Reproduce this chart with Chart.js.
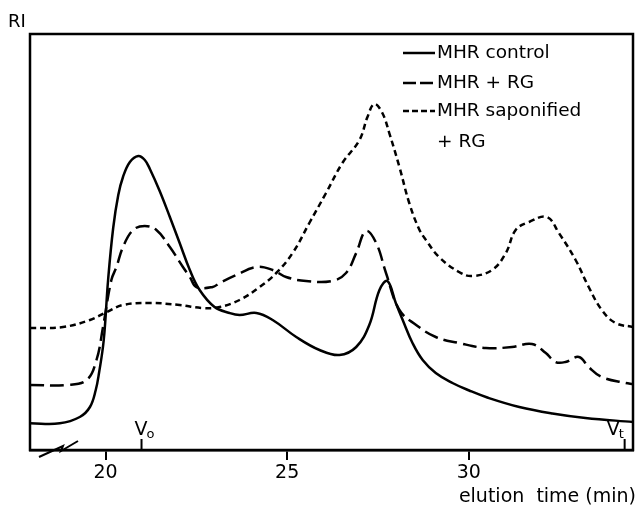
<!DOCTYPE html>
<html>
<head>
<meta charset="utf-8">
<script src="https://cdn.jsdelivr.net/npm/chart.js@4.4.0/dist/chart.umd.min.js"></script>
<style>
  html, body { margin: 0; padding: 0; background: #fff; }
  #wrap { width: 638px; height: 507px; position: relative; }
</style>
</head>
<body>
<div id="wrap"><canvas id="riChart"></canvas></div>
<script>
// values (RI in arbitrary units)
const xTicks = [20, 25, 30];

const controlTime = [17.92, 18.74, 19.29, 19.57, 19.73, 19.82, 19.95, 20.07, 20.21, 20.35, 20.48, 20.67, 20.9, 21.08, 21.22, 21.49, 21.77, 22.04, 22.32, 22.59, 23.0, 23.41, 23.69, 24.15, 24.6, 25.25, 25.89, 26.44, 26.9, 27.26, 27.54, 27.76, 27.99, 28.18, 28.45, 28.73, 29.09, 29.55, 30.01, 30.51, 31.39, 32.3, 33.21, 34.52];
const controlRI = [26.7, 26.7, 33, 43, 60, 77, 110, 170, 222, 255, 273, 288, 294, 290, 281, 259, 233, 207, 180, 160, 143, 137, 135, 137, 130, 113, 100, 95, 103, 125, 160, 169, 147, 130, 107, 90, 77, 67, 59.5, 52.5, 43, 36.5, 32, 28];

const rgTime = [17.92, 18.94, 19.48, 19.75, 19.93, 20.16, 20.3, 20.48, 20.76, 21.08, 21.4, 21.77, 22.13, 22.32, 22.5, 22.95, 23.14, 23.6, 24.15, 24.6, 24.97, 25.52, 26.24, 26.62, 26.9, 27.17, 27.45, 27.72, 28.09, 28.55, 29.09, 29.73, 30.47, 31.19, 31.74, 32.12, 32.39, 32.66, 33.03, 33.3, 33.66, 34.31, 34.52];
const rgRI = [65, 65, 70, 90, 123, 170, 183, 203, 220, 224, 220, 203, 183, 173, 163, 163, 167, 175, 183, 180, 173, 169, 169, 177, 197, 219, 207, 177, 140, 125, 113, 107, 102, 103, 106, 97, 88, 88, 93, 83, 73, 67, 66];

const sapTime = [17.92, 18.83, 19.57, 20.03, 20.48, 21.22, 22.04, 22.67, 23.14, 23.69, 24.24, 24.7, 25.15, 25.61, 26.07, 26.52, 26.99, 27.21, 27.4, 27.62, 27.81, 28.09, 28.36, 28.63, 28.82, 29.18, 29.73, 30.09, 30.64, 31.02, 31.29, 31.66, 32.15, 32.48, 32.94, 33.3, 33.66, 34.04, 34.52];
const sapRI = [122, 123, 130, 138, 145, 147, 145, 142, 143, 150, 163, 177, 197, 227, 257, 287, 310, 333, 346, 337, 317, 283, 247, 221, 210, 193, 178, 174, 180, 197, 220, 228, 233, 217, 190, 163, 140, 127, 123];

// V0 and Vt markers on the time axis
const markerTimes = [20.99, 34.29];
const markerSubs = ["o", "t"];

const FONT = '"DejaVu Sans", "Liberation Sans", sans-serif';

function toPoints(xs, ys) {
  return xs.map((x, i) => ({ x: x, y: ys[i] }));
}

// frame, legend, break mark and extra labels
const decorPlugin = {
  id: "decor",
  afterDraw(chart) {
    const ctx = chart.ctx;
    const area = chart.chartArea;
    const xs = chart.scales.x;
    ctx.save();
    ctx.strokeStyle = "#000";
    ctx.fillStyle = "#000";
    ctx.lineWidth = 2.5;
    ctx.strokeRect(area.left, area.top, area.right - area.left, area.bottom - area.top);

    // axis break
    ctx.lineWidth = 2;
    ctx.beginPath();
    ctx.moveTo(39, 457);
    ctx.lineTo(63, 446);
    ctx.lineTo(61, 451);
    ctx.lineTo(78, 441);
    ctx.stroke();

    // V0 / Vt
    markerTimes.forEach((t, i) => {
      const px = xs.getPixelForValue(t);
      ctx.lineWidth = 2;
      ctx.beginPath();
      ctx.moveTo(px, area.bottom);
      ctx.lineTo(px, area.bottom - 11);
      ctx.stroke();
      const vx = i === 0 ? px - 7 : px - 18;
      ctx.font = "19px " + FONT;
      ctx.textAlign = "left";
      ctx.textBaseline = "alphabetic";
      ctx.fillText("V", vx, 435);
      ctx.font = "13px " + FONT;
      ctx.fillText(markerSubs[i], vx + 12, 438);
    });

    // axis labels
    ctx.font = "18px " + FONT;
    ctx.textAlign = "left";
    ctx.textBaseline = "middle";
    ctx.fillText("RI", 8, 22);
    ctx.textAlign = "right";
    ctx.font = "19px " + FONT;
    ctx.fillText("elution  time (min)", 636, 497);

    // legend
    const rows = [53, 83, 111];
    chart.data.datasets.forEach((ds, i) => {
      const y = rows[i];
      ctx.lineWidth = 2.5;
      ctx.setLineDash(ds.legendDash);
      ctx.beginPath();
      ctx.moveTo(403, y);
      ctx.lineTo(435, y);
      ctx.stroke();
      ctx.setLineDash([]);
      ctx.font = "18.5px " + FONT;
      ctx.textAlign = "left";
      ctx.textBaseline = "middle";
      ds.label.split("\n").forEach((line, j) => {
        ctx.fillText(line, 437, y + j * 31);
      });
    });
    ctx.restore();
  },
};

const lineStyle = {
  borderColor: "#000",
  borderWidth: 2.5,
  pointRadius: 0,
  fill: false,
  tension: 0.4,
};

new Chart(document.getElementById("riChart"), {
  type: "line",
  data: {
    datasets: [
      Object.assign({ label: "MHR control", data: toPoints(controlTime, controlRI), borderDash: [], legendDash: [] }, lineStyle),
      Object.assign({ label: "MHR + RG", data: toPoints(rgTime, rgRI), borderDash: [14, 6], legendDash: [13, 4] }, lineStyle),
      Object.assign({ label: "MHR saponified\n+ RG", data: toPoints(sapTime, sapRI), borderDash: [6, 4], legendDash: [6, 3] }, lineStyle),
    ],
  },
  options: {
    responsive: true,
    maintainAspectRatio: false,
    animation: false,
    layout: { padding: { left: 30, top: 34, right: 5, bottom: 0 } },
    plugins: { legend: { display: false }, tooltip: { enabled: false } },
    scales: {
      x: {
        type: "linear",
        min: 17.92,
        max: 34.52,
        afterBuildTicks: (scale) => {
          scale.ticks = xTicks.map((v) => ({ value: v }));
        },
        afterFit: (scale) => {
          scale.height = 57;
        },
        border: { display: true, color: "#000", width: 2.5 },
        grid: { display: true, drawOnChartArea: false, drawTicks: true, tickLength: 10, color: "#000", lineWidth: 2 },
        ticks: { color: "#000", padding: 2, maxRotation: 0, font: { size: 19, family: FONT } },
      },
      y: {
        display: false,
        min: 0,
        max: 416,
      },
    },
  },
  plugins: [decorPlugin],
});
</script>
</body>
</html>
